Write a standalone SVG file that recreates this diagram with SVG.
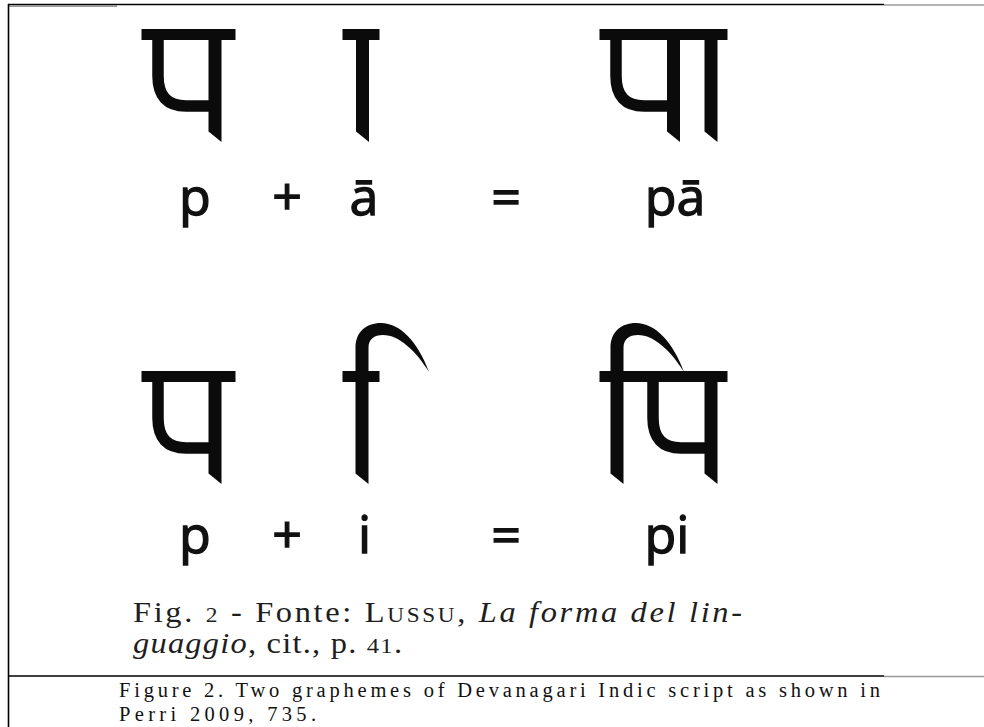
<svg xmlns="http://www.w3.org/2000/svg" xmlns:xlink="http://www.w3.org/1999/xlink" width="984" height="727" viewBox="0 0 984 727">
<style>
.ink{fill:#0b0b0b}
.bowl{fill:none;stroke:#0b0b0b;stroke-width:11.5}
.tr{font-family:"Open Sans","Noto Sans",sans-serif;font-size:52px;fill:#111;stroke:#111;stroke-width:1.3;text-anchor:middle}
.cit{font-family:"Liberation Serif","Times New Roman",serif;font-size:29px;fill:#1e1e1e}
.cap{font-family:"Liberation Serif","Times New Roman",serif;font-size:20.5px;fill:#111}
.rule{stroke:#000;stroke-width:1.6}
.grey{stroke:#9a9a9a;stroke-width:1.5}
</style>
<defs>
<path id="stem" class="ink" d="M0,0 H13 V104 L0,93.5 Z"/>
<path id="bowl" class="bowl" d="M5,0 V38 Q5,68 33,68 H57"/>
<path id="hook" class="ink" d="M355.5,382 V348 C355.5,332 366,323 381,323 C400,323 418,342 429,372 C416,351 399,335 383,335 C374,335 368.5,339 368.5,348 V382 Z"/>
</defs>
<rect width="984" height="727" fill="#fff"/>
<g id="frame">
<line class="grey" x1="8" y1="6.2" x2="117" y2="6.2"/>
<line class="rule" x1="8" y1="4.5" x2="884" y2="4.5"/>
<line class="grey" x1="884" y1="5" x2="984" y2="5"/>
<line class="rule" x1="8.5" y1="4" x2="8.5" y2="727"/>
<line class="rule" x1="8" y1="676" x2="884" y2="676"/>
<line class="grey" x1="884" y1="676.5" x2="984" y2="676.5"/>
</g>
<g id="row1">
<g id="pa1">
<rect class="ink" x="141.5" y="29" width="94" height="11"/>
<use xlink:href="#bowl" x="153" y="38"/>
<use xlink:href="#stem" x="208.5" y="38"/>
</g>
<g id="aa">
<rect class="ink" x="342.5" y="29" width="37" height="11"/>
<use xlink:href="#stem" x="356" y="38"/>
</g>
<g id="paa">
<rect class="ink" x="599.5" y="29" width="128" height="11"/>
<use xlink:href="#bowl" x="611" y="38"/>
<use xlink:href="#stem" x="667" y="38"/>
<use xlink:href="#stem" x="704.5" y="38"/>
</g>
<text class="tr" x="195" y="215">p</text>
<text class="tr" x="287" y="215">+</text>
<text class="tr" x="364" y="215">ā</text>
<text class="tr" x="506" y="215">=</text>
<text class="tr" x="675" y="215">pā</text>
</g>
<g id="row2">
<g id="pa2">
<rect class="ink" x="141.5" y="371" width="94" height="11"/>
<use xlink:href="#bowl" x="153" y="380"/>
<use xlink:href="#stem" x="208.5" y="380"/>
</g>
<g id="i-sign">
<rect class="ink" x="342.5" y="371" width="37" height="11"/>
<use xlink:href="#hook"/>
<use xlink:href="#stem" x="355.5" y="380"/>
</g>
<g id="pi">
<rect class="ink" x="599.5" y="371" width="128" height="11"/>
<use xlink:href="#hook" x="255"/>
<use xlink:href="#stem" x="610.5" y="380"/>
<use xlink:href="#bowl" x="648" y="380"/>
<use xlink:href="#stem" x="704.5" y="380"/>
</g>
<text class="tr" x="195" y="553">p</text>
<text class="tr" x="287" y="553">+</text>
<text class="tr" x="364.5" y="553">i</text>
<text class="tr" x="506" y="553">=</text>
<text class="tr" x="667" y="553">pi</text>
</g>
<g id="citation" transform="scale(1.12,1)">
<text class="cit" x="118.75" y="622" textLength="543.75" lengthAdjust="spacing">Fig. <tspan font-size="21">2</tspan> - Fonte: <tspan font-variant="small-caps">Lussu</tspan>, <tspan font-style="italic">La forma del lin-</tspan></text>
<text class="cit" x="118.75" y="653" textLength="240.2" lengthAdjust="spacing"><tspan font-style="italic">guaggio</tspan>, cit., p. <tspan font-size="22">41</tspan>.</text>
</g>
<g id="caption">
<text class="cap" x="119" y="697" textLength="761" lengthAdjust="spacing">Figure 2. Two graphemes of Devanagari Indic script as shown in</text>
<text class="cap" x="119" y="721" textLength="197" lengthAdjust="spacing">Perri 2009, 735.</text>
</g>
</svg>
